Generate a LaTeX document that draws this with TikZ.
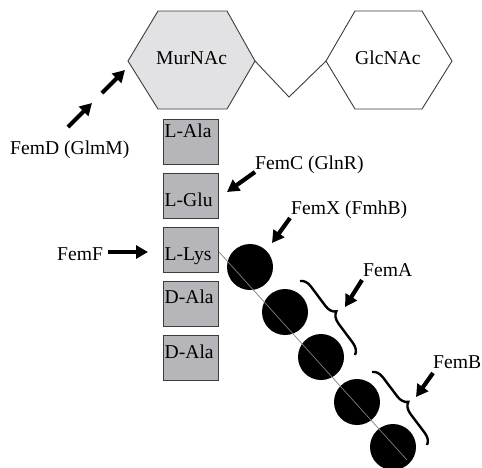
\documentclass[tikz,border=0pt]{standalone}
\usepackage{fontspec}
\setmainfont{Liberation Serif}
\usetikzlibrary{arrows.meta,decorations.pathreplacing}
\definecolor{sugargray}{RGB}{226,226,228}
\definecolor{resgray}{RGB}{182,182,186}
\definecolor{edgegray}{RGB}{60,60,60}
\begin{document}
\begin{tikzpicture}[x=1pt,y=-1pt,
  font=\fontsize{19.6}{22}\selectfont,
  hexline/.style={draw=edgegray, line width=0.9pt},
  residue/.style={draw=edgegray, line width=1.1pt, fill=resgray,
    minimum width=55pt, minimum height=45pt, inner sep=0pt, anchor=north west},
  reslabel/.style={anchor=base west, inner sep=0pt},
  txt/.style={anchor=base west, inner sep=0pt},
  bead/.style={circle, fill=black, minimum size=46pt, inner sep=0pt},
  fatarrow/.style={line width=4.2pt, -{Triangle[length=12pt,width=13pt]}},
  bracket/.style={decorate, decoration={brace, amplitude=11pt}, line width=2.4pt}]

\clip (0,0) rectangle (482,467);
\fill[white] (0,0) rectangle (482,467);

% sugar rings
\coordinate (mur-l)  at (128,61);
\coordinate (mur-tl) at (158,11);
\coordinate (mur-tr) at (227,11);
\coordinate (mur-r)  at (255,61);
\coordinate (mur-br) at (227,109);
\coordinate (mur-bl) at (158,109);
\coordinate (glc-l)  at (326,61);
\coordinate (glc-tl) at (355,11);
\coordinate (glc-tr) at (422,11);
\coordinate (glc-r)  at (452,61);
\coordinate (glc-br) at (422,109);
\coordinate (glc-bl) at (355,109);
\coordinate (link)   at (289,97);

\filldraw[hexline, fill=sugargray] (mur-l) -- (mur-tl) -- (mur-tr) -- (mur-r) -- (mur-br) -- (mur-bl) -- cycle;
\filldraw[hexline, fill=white] (glc-l) -- (glc-tl) -- (glc-tr) -- (glc-r) -- (glc-br) -- (glc-bl) -- cycle;
\draw[hexline] (mur-r) -- (link) -- (glc-l);

\node[txt] (murnac) at (156,64) {MurNAc};
\node[txt] (glcnac) at (355,64) {GlcNAc};

% stem peptide
\node[residue] (ala1) at (163,119) {};
\node[residue] (glu)  at (163,173) {};
\node[residue] (lys)  at (163,227) {};
\node[residue] (ala2) at (163,281) {};
\node[residue] (ala3) at (163,335) {};
\node[reslabel] (t-ala1) at (164.5,137) {L-Ala};
\node[reslabel] (t-glu)  at (164.5,206) {L-Glu};
\node[reslabel] (t-lys)  at (164.5,260) {L-Lys};
\node[reslabel] (t-ala2) at (164.5,303) {D-Ala};
\node[reslabel] (t-ala3) at (164.5,358) {D-Ala};

% pentaglycine bridge
\node[bead] (g1) at (250,267) {};
\node[bead] (g2) at (285,312) {};
\node[bead] (g3) at (321,357) {};
\node[bead] (g4) at (357,402) {};
\node[bead] (g5) at (393,447) {};
\coordinate (chain-end) at (407,460);
\draw[black!50, line width=0.7pt] ([yshift=-2pt]lys.east) -- (chain-end);

% braces over the glycine pairs
\coordinate (ba-s) at (300,281);
\coordinate (ba-e) at (355,355);
\coordinate (bb-s) at (372,372);
\coordinate (bb-e) at (427,445);
\draw[bracket] (ba-s) -- (ba-e);
\draw[bracket] (bb-s) -- (bb-e);

% enzyme labels
\node[txt] (femd) at (10,154) {FemD (GlmM)};
\node[txt] (femc) at (255,169) {FemC (GlnR)};
\node[txt] (femf) at (57,260) {FemF};
\node[txt] (femx) at (291,214) {FemX (FmhB)};
\node[txt] (fema) at (363,276) {FemA};
\node[txt] (femb) at (433,368) {FemB};

% arrows
\coordinate (d1-s) at (68,127);  \coordinate (d1-e) at (92,103);
\coordinate (d2-s) at (102,93);  \coordinate (d2-e) at (125,70);
\coordinate (c-s)  at (255,172); \coordinate (c-e)  at (227,192);
\coordinate (f-s)  at (108,252); \coordinate (f-e)  at (148,252);
\coordinate (x-s)  at (290,218); \coordinate (x-e)  at (272,243);
\coordinate (a-s)  at (362,280); \coordinate (a-e)  at (345,307);
\coordinate (b-s)  at (433,373); \coordinate (b-e)  at (416,397);
\draw[fatarrow] (d1-s) -- (d1-e);
\draw[fatarrow] (d2-s) -- (d2-e);
\draw[fatarrow] (c-s) -- (c-e);
\draw[fatarrow] (f-s) -- (f-e);
\draw[fatarrow] (x-s) -- (x-e);
\draw[fatarrow] (a-s) -- (a-e);
\draw[fatarrow] (b-s) -- (b-e);
\end{tikzpicture}
\end{document}
